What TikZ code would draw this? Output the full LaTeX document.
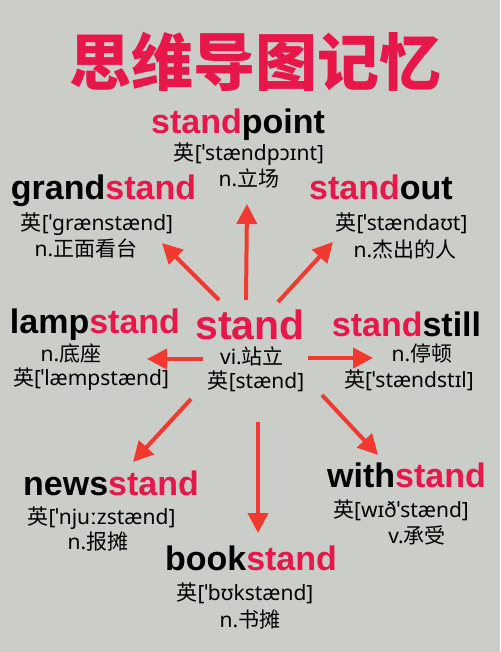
\documentclass[tikz,border=0pt]{standalone}
\usepackage{fontspec}
\usepackage{xcolor}
\setmainfont{Noto Sans}
\newfontfamily\cjkfont{Noto Sans CJK SC}
\newfontfamily\wordfont{Liberation Sans}
\usetikzlibrary{arrows.meta,positioning}

\definecolor{bgrey}{HTML}{CBCDC9}
\definecolor{wred}{HTML}{E8174A}
\definecolor{ared}{HTML}{F03A30}
\newcommand{\cn}[1]{{\cjkfont #1}}
\newcommand{\st}{\textcolor{wred}{stand}}

\tikzset{
  word/.style={anchor=base,inner sep=0pt,font=\wordfont\bfseries\fontsize{34}{34}\selectfont},
  info/.style={anchor=base,inner sep=0pt,font=\fontsize{21}{21}\selectfont},
  branch/.style={ared,line width=4pt,-{Triangle[length=20pt,width=20pt]}}
}

\begin{document}
\begin{tikzpicture}[x=1pt,y=-1pt]
  \fill[bgrey] (0,0) rectangle (500,652);
  \node[anchor=center,inner sep=0pt,text=wred,font=\cjkfont\bfseries\fontsize{62}{62}\selectfont] (title) at (255,62) {思维导图记忆};

  % centre word
  \node[word,text=wred,text depth=0pt,font=\wordfont\bfseries\fontsize{41}{41}\selectfont] (stand) at (250,339) {stand};
  \node[info,text height=15pt] (stand-m) at (252,364) {vi.\cn{站立}};
  \node[info] (stand-p) at (256,388) {\cn{英}[stænd]};

  % the eight words
  \node[word] (standpoint) at (238,134) {\st point};
  \node[info] (standpoint-p) at (249,161) {\cn{英}[ˈstændpɔɪnt]};
  \node[info] (standpoint-m) at (249,186) {n.\cn{立场}};

  \node[word] (grandstand) at (103.5,200) {grand\st};
  \node[info] (grandstand-p) at (97,230) {\cn{英}[ˈgrænstænd]};
  \node[info] (grandstand-m) at (86,256) {n.\cn{正面看台}};

  \node[word] (standout) at (381,200) {\st out};
  \node[info] (standout-p) at (401.5,230) {\cn{英}[ˈstændaʊt]};
  \node[info] (standout-m) at (405,257) {n.\cn{杰出的人}};

  \node[word] (lampstand) at (95,333) {lamp\st};
  \node[info] (lampstand-m) at (71,361) {n.\cn{底座}};
  \node[info] (lampstand-p) at (91,385) {\cn{英}[ˈlæmpstænd]};

  \node[word] (standstill) at (406.5,336) {\st still};
  \node[info] (standstill-m) at (422,361) {n.\cn{停顿}};
  \node[info] (standstill-p) at (409,387) {\cn{英}[ˈstændstɪl]};

  \node[word] (newsstand) at (111,495) {news\st};
  \node[info] (newsstand-p) at (101.5,524) {\cn{英}[ˈnjuːzstænd]};
  \node[info] (newsstand-m) at (98,549) {n.\cn{报摊}};

  \node[word] (bookstand) at (251,570) {book\st};
  \node[info] (bookstand-p) at (245,600) {\cn{英}[ˈbʊkstænd]};
  \node[info] (bookstand-m) at (250,627) {n.\cn{书摊}};

  \node[word] (withstand) at (406.5,487) {with\st};
  \node[info] (withstand-p) at (401,517) {\cn{英}[wɪðˈstænd]};
  \node[info] (withstand-m) at (417,543) {v.\cn{承受}};

  % arrow ends
  \coordinate (a1) at (246,300); \coordinate (b1) at (247,204);
  \coordinate (a2) at (219,300); \coordinate (b2) at (162,243);
  \coordinate (a3) at (278,302); \coordinate (b3) at (333,242);
  \coordinate (a4) at (203,359); \coordinate (b4) at (147,359);
  \coordinate (a5) at (308,358); \coordinate (b5) at (373,358);
  \coordinate (a6) at (191,399); \coordinate (b6) at (133,462);
  \coordinate (a7) at (258,422); \coordinate (b7) at (258,533);
  \coordinate (a8) at (322,395); \coordinate (b8) at (378,455);
  \foreach \i in {1,...,8}
    \draw[branch] (a\i) -- (b\i);
\end{tikzpicture}
\end{document}
